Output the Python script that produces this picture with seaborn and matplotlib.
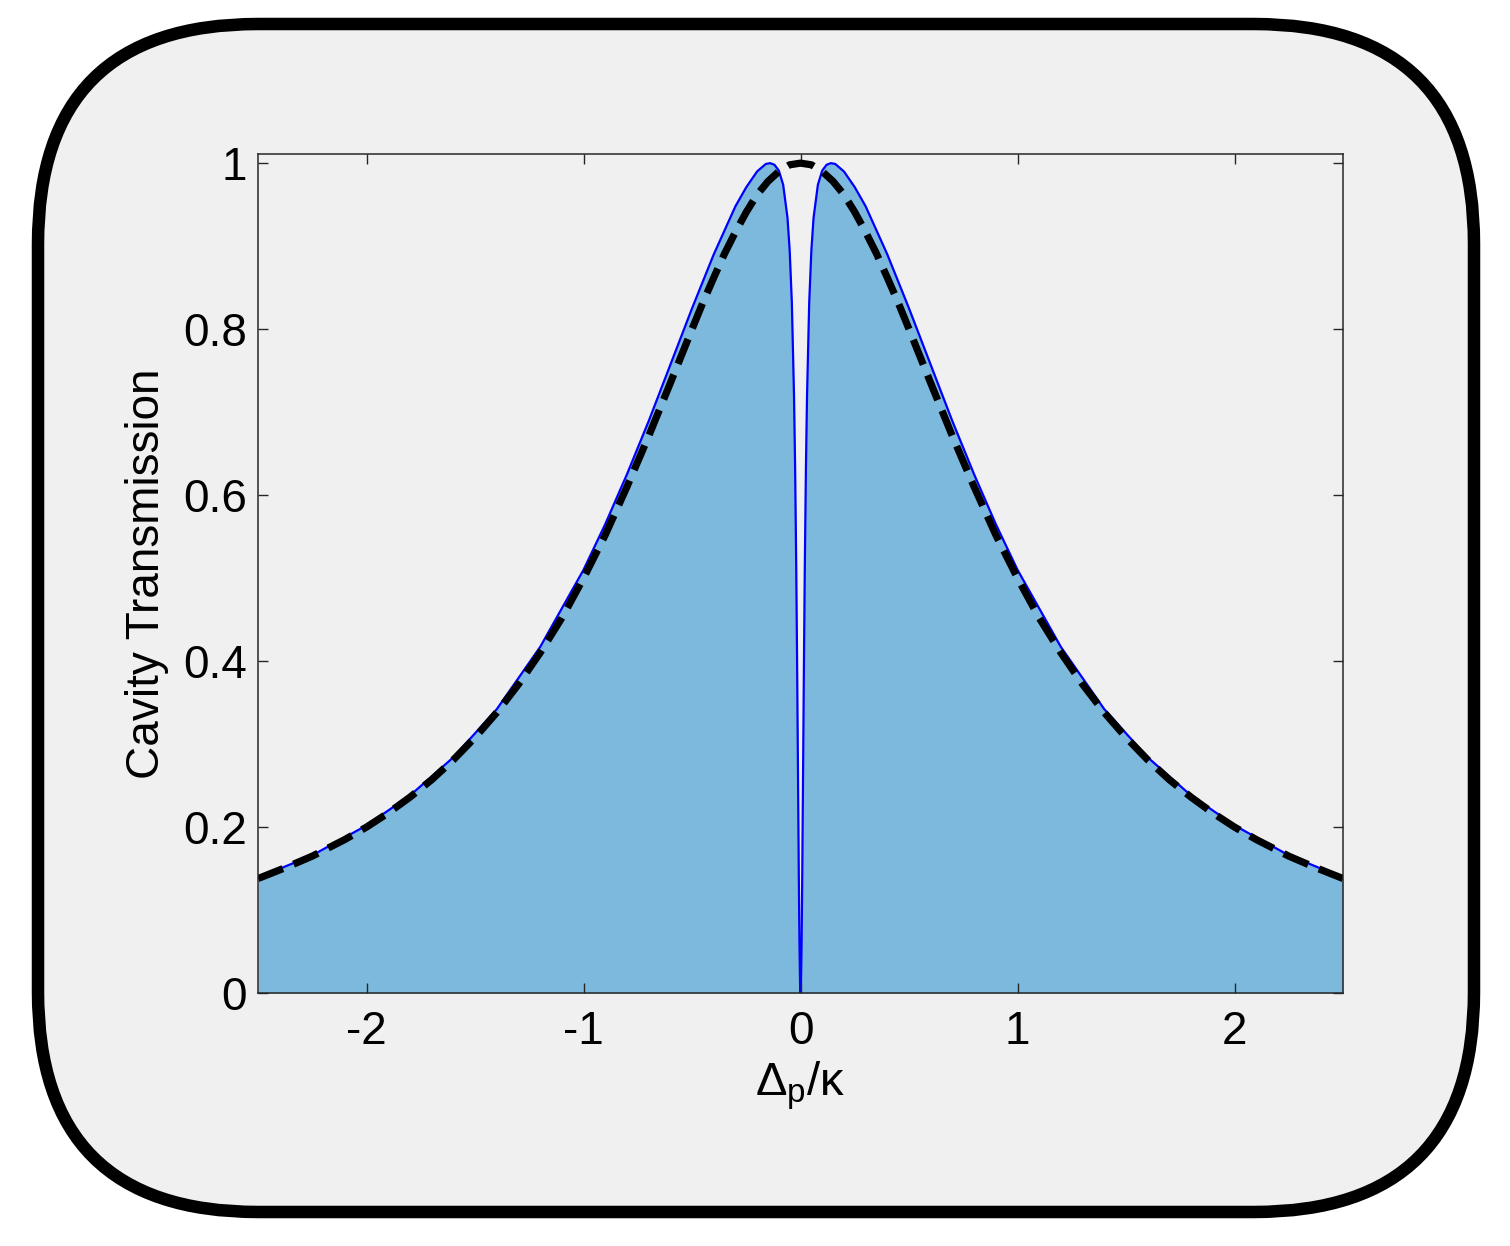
import numpy as np
import pandas as pd
import matplotlib
matplotlib.use("Agg")
import matplotlib.pyplot as plt
import seaborn as sns
from matplotlib.patches import FancyBboxPatch

# probe detuning (in units of kappa) and transmission
detuning = [-2.5, -2.25, -2.0, -1.8, -1.6, -1.4, -1.2, -1.0, -0.9, -0.8, -0.7, -0.6, -0.5,
            -0.4, -0.3, -0.25, -0.2, -0.16, -0.14, -0.12, -0.1, -0.08, -0.06, -0.05, -0.04,
            -0.03, -0.025, -0.02, -0.016, -0.012, -0.008, -0.005, -0.002, 0.0,
            0.002, 0.005, 0.008, 0.012, 0.016, 0.02, 0.025, 0.03, 0.04, 0.05, 0.06, 0.08,
            0.1, 0.12, 0.14, 0.16, 0.2, 0.25, 0.3, 0.4, 0.5, 0.6, 0.7, 0.8, 0.9, 1.0,
            1.2, 1.4, 1.6, 1.8, 2.0, 2.25, 2.5]
transmission = [0.139, 0.166, 0.202, 0.238, 0.284, 0.342, 0.417, 0.510, 0.565, 0.625, 0.689, 0.757, 0.825,
                0.890, 0.948, 0.971, 0.990, 0.999, 1.0, 0.998, 0.991, 0.974, 0.934, 0.895, 0.832,
                0.720, 0.635, 0.520, 0.406, 0.276, 0.144, 0.061, 0.010, 0.0,
                0.010, 0.061, 0.144, 0.276, 0.406, 0.520, 0.635, 0.720, 0.832, 0.895, 0.934, 0.974,
                0.991, 0.998, 1.0, 0.999, 0.990, 0.971, 0.948, 0.890, 0.825, 0.757, 0.689, 0.625, 0.565, 0.510,
                0.417, 0.342, 0.284, 0.238, 0.202, 0.166, 0.139]

# empty cavity (dashed)
detuning_empty = [-2.5, -2.375, -2.25, -2.1, -2.0, -1.9, -1.8, -1.7, -1.6, -1.5, -1.4, -1.3, -1.2,
                  -1.1, -1.0, -0.9, -0.8, -0.7, -0.6, -0.5, -0.45, -0.4, -0.35, -0.3, -0.25, -0.2,
                  -0.15, -0.1, -0.05, 0.0, 0.05, 0.1, 0.15, 0.2, 0.25, 0.3, 0.35, 0.4, 0.45, 0.5,
                  0.6, 0.7, 0.8, 0.9, 1.0, 1.1, 1.2, 1.3, 1.4, 1.5, 1.6, 1.7, 1.8, 1.9, 2.0,
                  2.1, 2.25, 2.375, 2.5]
transmission_empty = [0.138, 0.151, 0.165, 0.185, 0.200, 0.217, 0.236, 0.257, 0.281, 0.308, 0.338, 0.372, 0.410,
                      0.452, 0.500, 0.552, 0.610, 0.671, 0.735, 0.800, 0.832, 0.862, 0.891, 0.917, 0.941, 0.962,
                      0.978, 0.990, 0.998, 1.0, 0.998, 0.990, 0.978, 0.962, 0.941, 0.917, 0.891, 0.862, 0.832, 0.800,
                      0.735, 0.671, 0.610, 0.552, 0.500, 0.452, 0.410, 0.372, 0.338, 0.308, 0.281, 0.257, 0.236, 0.217, 0.200,
                      0.185, 0.165, 0.151, 0.138]

xticks = [-2, -1, 0, 1, 2]
xticklabels = ["-2", "-1", "0", "1", "2"]
yticks = [0, 0.2, 0.4, 0.6, 0.8, 1.0]
yticklabels = ["0", "0.2", "0.4", "0.6", "0.8", "1"]

df = pd.DataFrame({"x": detuning, "T": transmission})
df_empty = pd.DataFrame({"x": detuning_empty, "T": transmission_empty})

sns.set_theme(style="ticks")
plt.rcParams["font.family"] = ["Liberation Sans", "DejaVu Sans"]
plt.rcParams["axes.unicode_minus"] = False
plt.rcParams["mathtext.fontset"] = "custom"
plt.rcParams["mathtext.rm"] = "Liberation Sans"
plt.rcParams["mathtext.it"] = "Liberation Sans"

fig = plt.figure(figsize=(15.1, 12.46), dpi=100, facecolor="white")

# rounded frame in pixel coordinates
bg = fig.add_axes([0, 0, 1, 1], zorder=0)
bg.set_xlim(0, 1510)
bg.set_ylim(1246, 0)
bg.axis("off")
bg.add_patch(FancyBboxPatch((38, 24), 1436, 1188,
                            boxstyle="round,pad=0,rounding_size=220",
                            facecolor="#f0f0f0", edgecolor="black", linewidth=9))

ax = fig.add_axes([0.1709, 0.2030, 0.7185, 0.6734], zorder=1)
ax.set_facecolor("#f0f0f0")

ax.fill_between(df["x"], df["T"], 0, color="#7db9dc", linewidth=0, zorder=1)
sns.lineplot(data=df, x="x", y="T", ax=ax, sort=False, estimator=None,
             color="#0000ff", linewidth=1.6, zorder=2)
sns.lineplot(data=df_empty, x="x", y="T", ax=ax, sort=False, estimator=None,
             color="black", linewidth=5.2, linestyle="--", dashes=(3.0, 1.3), zorder=3)

ax.set_xlim(-2.5, 2.5)
ax.set_ylim(0, 1.011)
ax.set_xticks(xticks)
ax.set_xticklabels(xticklabels)
ax.set_yticks(yticks)
ax.set_yticklabels(yticklabels)
ax.tick_params(direction="in", top=True, right=True, length=7, width=1,
               color="#262626", labelsize=33, labelcolor="black")
ax.tick_params(axis="x", pad=12)
ax.tick_params(axis="y", pad=8)
ax.set_axisbelow(False)
for s in ax.spines.values():
    s.set_visible(True)
    s.set_color("#262626")
    s.set_linewidth(1.1)
    s.set_zorder(5)

ax.set_xlabel(r"$\mathregular{\Delta_p/\kappa}$", fontsize=34, color="black", labelpad=4)
ax.set_ylabel("Cavity Transmission", fontsize=33, color="black", labelpad=10)
if ax.get_legend() is not None:
    ax.get_legend().remove()

plt.savefig("out.png", dpi=100, facecolor="white")
